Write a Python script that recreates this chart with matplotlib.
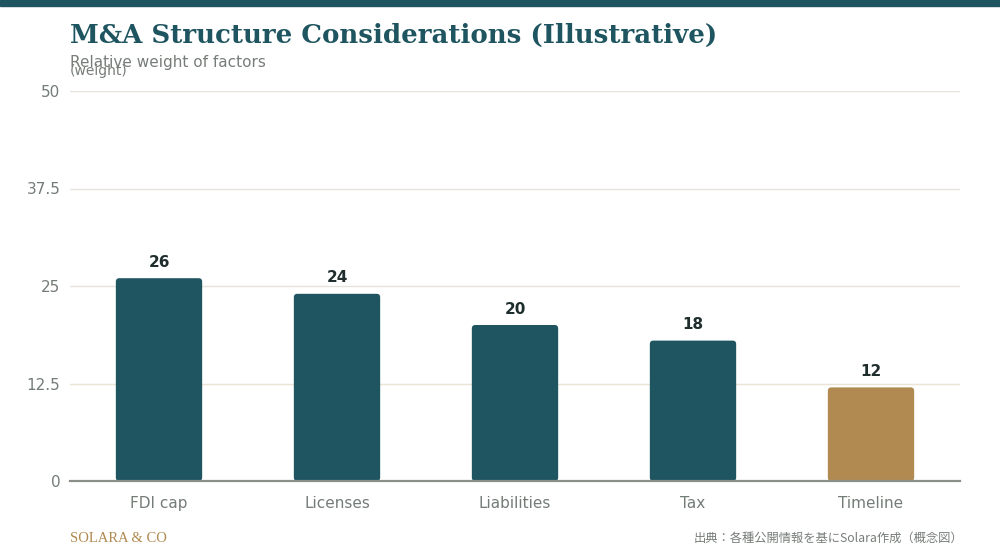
import matplotlib
matplotlib.use("Agg")
import matplotlib.pyplot as plt
from matplotlib.patches import FancyBboxPatch, Rectangle

plt.rcParams['font.family'] = ['DejaVu Sans', 'Noto Sans CJK JP']

categories = ["FDI cap", "Licenses", "Liabilities", "Tax", "Timeline"]
values = [26, 24, 20, 18, 12]
bar_colors = ["#1f5560", "#1f5560", "#1f5560", "#1f5560", "#b08a50"]
yticks = [0, 12.5, 25, 37.5, 50]
ytick_labels = ["0", "12.5", "25", "37.5", "50"]

W, H = 10.0, 5.6
fig = plt.figure(figsize=(W, H), dpi=100)
fig.patches.append(Rectangle((0, 1 - 6/560), 1, 6/560, transform=fig.transFigure,
                             color="#1f5560", zorder=0))

left, right, bottom, top = 70/1000, 960/1000, 1 - 481/560, 1 - 91/560
ax = fig.add_axes([left, bottom, right - left, top - bottom])
ax.set_xlim(-0.5, len(categories) - 0.5)
ax.set_ylim(0, 50)

ax_w_px = (right - left) * W * 100
ax_h_px = (top - bottom) * H * 100
xu_per_px = len(categories) / ax_w_px
yu_per_px = 50 / ax_h_px
r_px = 3.5
bw = 0.485
for i, (v, c) in enumerate(zip(values, bar_colors)):
    p = FancyBboxPatch((i - bw/2, 0), bw, v,
                       boxstyle=f"round,pad=0,rounding_size={r_px*xu_per_px}",
                       mutation_aspect=yu_per_px/xu_per_px,
                       facecolor=c, edgecolor="none", zorder=3)
    ax.add_patch(p)
    ax.annotate(f"{v}", (i, v), xytext=(0, 6), textcoords="offset points",
                ha="center", va="bottom", fontsize=11, fontweight="bold",
                color="#1f2d2d", zorder=4)

for t in yticks[1:]:
    col = "#ebe3d3" if t == 12.5 else "#e6e3dc"
    ax.axhline(t, color=col, lw=1, zorder=1)

ax.set_yticks(yticks)
ax.set_yticklabels(ytick_labels)
ax.set_xticks(range(len(categories)))
ax.set_xticklabels(categories)
ax.tick_params(axis="both", length=0, labelsize=11, labelcolor="#737c76")
ax.tick_params(axis="x", pad=11)
ax.tick_params(axis="y", pad=7)
for s in ["top", "right", "left"]:
    ax.spines[s].set_visible(False)
ax.spines["bottom"].set_color("#8a8f88")
ax.spines["bottom"].set_linewidth(1.6)
ax.spines["bottom"].set_zorder(5)

fig.text(70/1000, 1 - 35/560, "M&A Structure Considerations (Illustrative)",
         family="DejaVu Serif", fontweight="bold", fontsize=18.7, color="#1f5560",
         ha="left", va="center")
fig.text(70/1000, 1 - 63/560, "Relative weight of factors", fontsize=11,
         color="#777d78", ha="left", va="center")
fig.text(70/1000, 1 - 71/560, "(weight)", fontsize=10,
         color="#777d78", ha="left", va="center")
fig.text(70/1000, 1 - 538/560, "SOLARA & CO", family="Liberation Serif", fontsize=10.5,
         color="#b08a50", ha="left", va="center")
fig.text(963/1000, 1 - 538/560, "出典：各種公開情報を基にSolara作成（概念図）",
         family=["Noto Sans CJK JP", "DejaVu Sans"], fontsize=8.85,
         color="#777d78", ha="right", va="center")

fig.savefig("out.png", dpi=100)
